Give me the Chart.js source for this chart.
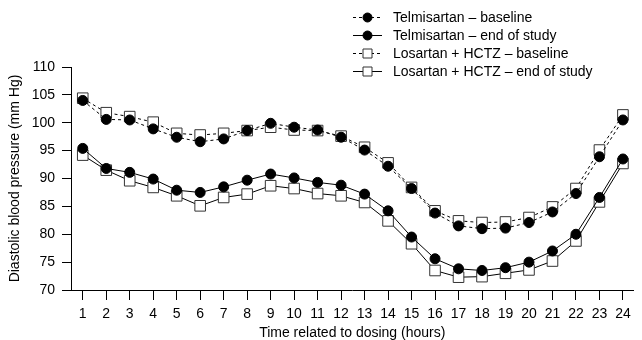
<!DOCTYPE html>
<html>
<head>
<meta charset="utf-8">
<script src="https://cdn.jsdelivr.net/npm/chart.js@4"></script>
<style>
html,body{margin:0;padding:0;background:#fff;}
#wrap{width:642px;height:340px;position:relative;}
</style>
</head>
<body>
<div id="wrap"><canvas id="bpChart"></canvas></div>
<script>
// hours after dosing
let hours = [1,2,3,4,5,6,7,8,9,10,11,12,13,14,15,16,17,18,19,20,21,22,23,24];
let yTicks = [70,75,80,85,90,95,100,105,110];

// diastolic BP, mm Hg
let telmiBaseline = [104.0,100.6,100.5,98.9,97.4,96.6,97.1,98.6,99.9,99.2,98.7,97.4,95.1,92.2,88.2,83.8,81.5,81.0,81.1,82.1,84.0,87.3,93.9,100.5];
let telmiEnd      = [95.4,91.8,91.1,89.9,87.9,87.5,88.5,89.7,90.8,90.1,89.3,88.8,87.2,84.2,79.5,75.6,73.8,73.5,74.0,75.0,77.0,80.0,86.6,93.5];
let losBaseline   = [104.4,101.8,101.1,100.1,98.1,97.8,98.1,98.6,99.2,98.7,98.6,97.6,95.6,92.8,88.4,84.2,82.4,82.1,82.2,83.0,84.9,88.2,95.1,101.4];
let losEnd        = [94.2,91.5,89.6,88.4,86.9,85.1,86.6,87.2,88.7,88.2,87.3,86.9,85.7,82.4,78.3,73.5,72.3,72.4,73.0,73.6,75.2,78.8,85.8,92.7];

let labels = ["Telmisartan \u2013 baseline","Telmisartan \u2013 end of study","Losartan + HCTZ \u2013 baseline","Losartan + HCTZ \u2013 end of study"];

const FONT = "'Liberation Sans', Arial, Helvetica, sans-serif";

function pts(vals){ return hours.map((h,i)=>({x:h,y:vals[i]})); }

function ds(label, vals, filled, dashed){
    return {
        label: label,
        data: pts(vals),
        borderColor: '#000',
        borderWidth: 1,
        borderDash: dashed ? [3,3] : [],
        pointStyle: filled ? 'circle' : 'rect',
        pointRadius: filled ? 5 : 7.5,
        pointBackgroundColor: filled ? '#000' : '#fff',
        pointBorderColor: filled ? '#000' : '#333',
        pointBorderWidth: 1,
        fill: false,
        tension: 0
    };
}

// legend drawn by hand so it can sit over the top of the plot like the original
const legendPlugin = {
    id: 'manualLegend',
    afterDraw(chart){
        const ctx = chart.ctx;
        ctx.save();
        ctx.font = '14px ' + FONT;
        ctx.textBaseline = 'middle';
        chart.data.datasets.forEach((d,i)=>{
            let y = 17 + i*18;
            ctx.strokeStyle = '#000';
            ctx.lineWidth = 1;
            ctx.setLineDash(d.borderDash);
            ctx.beginPath(); ctx.moveTo(353,y+0.5); ctx.lineTo(382,y+0.5); ctx.stroke();
            ctx.setLineDash([]);
            ctx.fillStyle = d.pointBackgroundColor; ctx.strokeStyle = d.pointBorderColor;
            ctx.beginPath();
            if(d.pointStyle==='rect'){ ctx.rect(363, y-4, 9, 9); }
            else { ctx.arc(367.5, y+0.5, 4.5, 0, Math.PI*2); }
            ctx.fill(); ctx.stroke();
            ctx.fillStyle = '#000';
            ctx.fillText(d.label, 393, y+1);
        });
        ctx.restore();
    }
};

new Chart(document.getElementById('bpChart'), {
    type: 'line',
    data: {
        datasets: [
            ds(labels[0], telmiBaseline, true, true),
            ds(labels[1], telmiEnd, true, false),
            ds(labels[2], losBaseline, false, true),
            ds(labels[3], losEnd, false, false)
        ]
    },
    options: {
        responsive: true,
        maintainAspectRatio: false,
        animation: false,
        layout: {padding: {top: 67, right: 1, left: 0, bottom: 0}},
        plugins: {legend: {display: false}, tooltip: {enabled: false}},
        scales: {
            x: {
                type: 'linear',
                min: 0.5, max: 24.45,
                afterBuildTicks: s => { s.ticks = hours.map(v=>({value:v})); },
                afterFit: s => { s.height = 50; },
                grid: {drawOnChartArea: false, tickLength: 10, color: '#000', lineWidth: 1},
                border: {display: true, color: '#000', width: 1},
                ticks: {color: '#000', font: {family: FONT, size: 14}, padding: 6, maxRotation: 0, autoSkip: false},
                title: {display: true, text: 'Time related to dosing (hours)', color: '#000', font: {family: FONT, size: 14, lineHeight: 1}, padding: {top: 0, bottom: 0}}
            },
            y: {
                min: 70, max: 110,
                afterBuildTicks: s => { s.ticks = yTicks.map(v=>({value:v})); },
                afterFit: s => { s.width = 71; },
                grid: {drawOnChartArea: false, tickLength: 9, color: '#000', lineWidth: 1},
                border: {display: true, color: '#000', width: 1},
                ticks: {color: '#000', font: {family: FONT, size: 14}, padding: 7},
                title: {display: true, text: 'Diastolic blood pressure (mm Hg)', color: '#000', font: {family: FONT, size: 14, lineHeight: 1}, padding: {top: 8, bottom: 0}}
            }
        }
    },
    plugins: [legendPlugin]
});
</script>
</body>
</html>
